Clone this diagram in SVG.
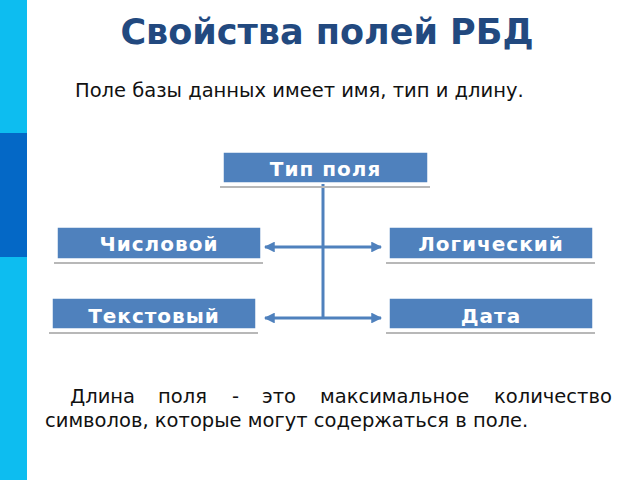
<svg xmlns="http://www.w3.org/2000/svg" width="640" height="480" viewBox="0 0 640 480">
<style>
.box{fill:#4F81BD;stroke:#ffffff;stroke-width:1.5}
.sh{stroke:#b8b8b8;stroke-width:2}
.bt{font-family:"DejaVu Sans",sans-serif;font-weight:bold;font-size:20px;fill:#ffffff;text-anchor:middle;letter-spacing:1px}
.con{stroke:#4F81BD;stroke-width:3;fill:none}
.body{font-family:"DejaVu Sans",sans-serif;font-size:19.5px;fill:#111111}
</style>
<defs>
<marker id="ah" viewBox="0 0 10 10" refX="9" refY="5" markerWidth="3.6" markerHeight="3.6" orient="auto-start-reverse" markerUnits="strokeWidth">
<path d="M0,0 L10,5 L0,10 z" fill="#4F81BD"/>
</marker>
</defs>
<rect x="0" y="0" width="640" height="480" fill="#ffffff"/>
<rect x="0" y="0" width="27" height="480" fill="#0DBDF0"/>
<rect x="0" y="133" width="27" height="124" fill="#0468C6"/>
<text x="327" y="44" font-family="DejaVu Sans, sans-serif" font-weight="bold" font-size="35" fill="#22497F" text-anchor="middle">Свойства полей РБД</text>
<text x="75" y="97" class="body">Поле базы данных имеет имя, тип и длину.</text>
<g id="connectors">
<line class="con" x1="323" y1="184" x2="323" y2="318"/>
<line class="con" x1="323" y1="247" x2="265" y2="247" marker-end="url(#ah)"/>
<line class="con" x1="323" y1="247" x2="381" y2="247" marker-end="url(#ah)"/>
<line class="con" x1="323" y1="318" x2="265" y2="318" marker-end="url(#ah)"/>
<line class="con" x1="323" y1="318" x2="381" y2="318" marker-end="url(#ah)"/>
</g>
<g id="type">
<line class="sh" x1="220" y1="187" x2="430" y2="187"/>
<rect class="box" x="223" y="152" width="205" height="31"/>
<text class="bt" x="325.5" y="176">Тип поля</text>
</g>
<g id="num">
<line class="sh" x1="54" y1="263" x2="263" y2="263"/>
<rect class="box" x="57" y="227" width="204" height="32"/>
<text class="bt" x="159" y="251">Числовой</text>
</g>
<g id="logic">
<line class="sh" x1="386" y1="263" x2="595" y2="263"/>
<rect class="box" x="389" y="227" width="204" height="32"/>
<text class="bt" x="491" y="251">Логический</text>
</g>
<g id="text">
<line class="sh" x1="49" y1="333" x2="258" y2="333"/>
<rect class="box" x="52" y="298" width="204" height="31"/>
<text class="bt" x="154" y="323">Текстовый</text>
</g>
<g id="date">
<line class="sh" x1="386" y1="333" x2="595" y2="333"/>
<rect class="box" x="389" y="298" width="204" height="31"/>
<text class="bt" x="491" y="323">Дата</text>
</g>
<text class="body" y="403"><tspan x="70">Длина</tspan><tspan x="158">поля</tspan><tspan x="232">-</tspan><tspan x="262">это</tspan><tspan x="320">максимальное</tspan><tspan x="494">количество</tspan></text>
<text x="45" y="427" class="body">символов, которые могут содержаться в поле.</text>
</svg>
